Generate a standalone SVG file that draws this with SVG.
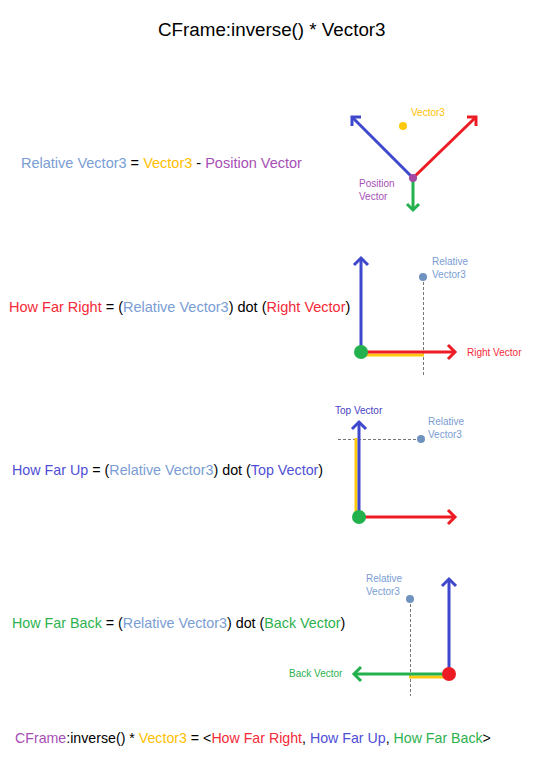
<svg xmlns="http://www.w3.org/2000/svg" width="547" height="761" viewBox="0 0 547 761">
<style>
text{font-family:"Liberation Sans",Arial,sans-serif}
.t{fill:#000}
.s{font-size:10px}
.rv{fill:#7a9dd3}
.v3{fill:#ffc000}
.pv{fill:#a64fb5}
.rd{fill:#f42a38}
.bl{fill:#4f4fd6}
.gr{fill:#2db24e}
.ln{fill:none;stroke-width:3;stroke-linecap:butt;stroke-linejoin:miter}
.b{stroke:#3f48cc}
.r{stroke:#ed1c24}
.g{stroke:#22b14c}
.y{stroke:#ffc90e}
.d{stroke:#777;stroke-width:1;stroke-dasharray:3,2;fill:none}
</style>
<rect width="547" height="761" fill="#fff"/>
<g id="title"><text x="158" y="36" font-size="18.8">CFrame:inverse() * Vector3</text></g>

<g id="eq1"><text class="t" x="21" y="168" font-size="14.5"><tspan class="rv">Relative Vector3</tspan> = <tspan class="v3">Vector3</tspan> - <tspan class="pv">Position Vector</tspan></text></g>
<g id="eq2"><text class="t" x="9" y="312" font-size="14.5"><tspan class="rd">How Far Right</tspan> = (<tspan class="rv">Relative Vector3</tspan>) dot (<tspan class="rd">Right Vector</tspan>)</text></g>
<g id="eq3"><text class="t" x="12" y="475" font-size="14.3"><tspan class="bl">How Far Up</tspan> = (<tspan class="rv">Relative Vector3</tspan>) dot (<tspan class="bl">Top Vector</tspan>)</text></g>
<g id="eq4"><text class="t" x="12" y="628" font-size="14.3"><tspan class="gr">How Far Back</tspan> = (<tspan class="rv">Relative Vector3</tspan>) dot (<tspan class="gr">Back Vector</tspan>)</text></g>
<g id="eq5"><text class="t" x="15" y="743" font-size="14.2"><tspan class="pv">CFrame</tspan>:inverse() * <tspan class="v3">Vector3</tspan> = &lt;<tspan class="rd">How Far Right</tspan>, <tspan class="bl">How Far Up</tspan>, <tspan class="gr">How Far Back</tspan>&gt;</text></g>

<g id="connectors">
<!-- diagram 1 -->
<line class="ln b" x1="413" y1="178" x2="352" y2="117"/>
<polyline class="ln b" points="352,126 352,117 361,117"/>
<line class="ln r" x1="413" y1="178" x2="476" y2="117"/>
<polyline class="ln r" points="467,117 476,117 476,126"/>
<line class="ln g" x1="413" y1="178" x2="413" y2="210"/>
<polyline class="ln g" points="407,204 413,210 419,204"/>
<!-- diagram 2 -->
<line class="d" x1="423.5" y1="277" x2="423.5" y2="376"/>
<line class="ln y" x1="361" y1="355" x2="424" y2="355"/>
<line class="ln r" x1="361" y1="352" x2="455" y2="352"/>
<polyline class="ln r" points="448,345 455,352 448,359"/>
<line class="ln b" x1="361" y1="352" x2="361" y2="258"/>
<polyline class="ln b" points="354,265 361,258 368,265"/>
<!-- diagram 3 -->
<line class="d" x1="338" y1="439.5" x2="420" y2="439.5"/>
<line class="ln y" x1="356" y1="438" x2="356" y2="516"/>
<line class="ln b" x1="359" y1="516" x2="359" y2="422"/>
<polyline class="ln b" points="352,429 359,422 366,429"/>
<line class="ln r" x1="359" y1="517" x2="455" y2="517"/>
<polyline class="ln r" points="448,510 455,517 448,524"/>
<!-- diagram 4 -->
<line class="d" x1="410.5" y1="599" x2="410.5" y2="696"/>
<line class="ln y" x1="409" y1="677" x2="449" y2="677"/>
<line class="ln g" x1="449" y1="674" x2="354" y2="674"/>
<polyline class="ln g" points="361,667 354,674 361,681"/>
<line class="ln b" x1="449" y1="674" x2="449" y2="579"/>
<polyline class="ln b" points="442,586 449,579 456,586"/>
</g>

<g id="d1-origin"><circle cx="413" cy="178" r="4" fill="#a349a4"/><text class="s pv" x="359" y="187">Position</text><text class="s pv" x="359" y="200">Vector</text></g>
<g id="d1-vector3"><circle cx="403" cy="126" r="4" fill="#ffc90e"/><text class="s v3" x="411" y="116">Vector3</text></g>

<g id="d2-origin"><circle cx="361" cy="352" r="7" fill="#22b14c"/></g>
<g id="d2-rel"><circle cx="423" cy="277" r="4" fill="#7092be"/><text class="s rv" x="432" y="265">Relative</text><text class="s rv" x="432" y="278">Vector3</text></g>
<g id="d2-right"><text class="s rd" x="467" y="356">Right Vector</text></g>

<g id="d3-origin"><circle cx="359" cy="517" r="7" fill="#22b14c"/></g>
<g id="d3-rel"><circle cx="421" cy="439" r="4" fill="#7092be"/><text class="s rv" x="428" y="425">Relative</text><text class="s rv" x="428" y="438">Vector3</text></g>
<g id="d3-top"><text class="s" x="335" y="414" fill="#4a42c4">Top Vector</text></g>

<g id="d4-origin"><circle cx="449" cy="674" r="7" fill="#ed1c24"/></g>
<g id="d4-rel"><circle cx="410" cy="599" r="4" fill="#7092be"/><text class="s rv" x="366" y="582">Relative</text><text class="s rv" x="366" y="595">Vector3</text></g>
<g id="d4-back"><text class="s gr" x="289" y="677">Back Vector</text></g>
</svg>
